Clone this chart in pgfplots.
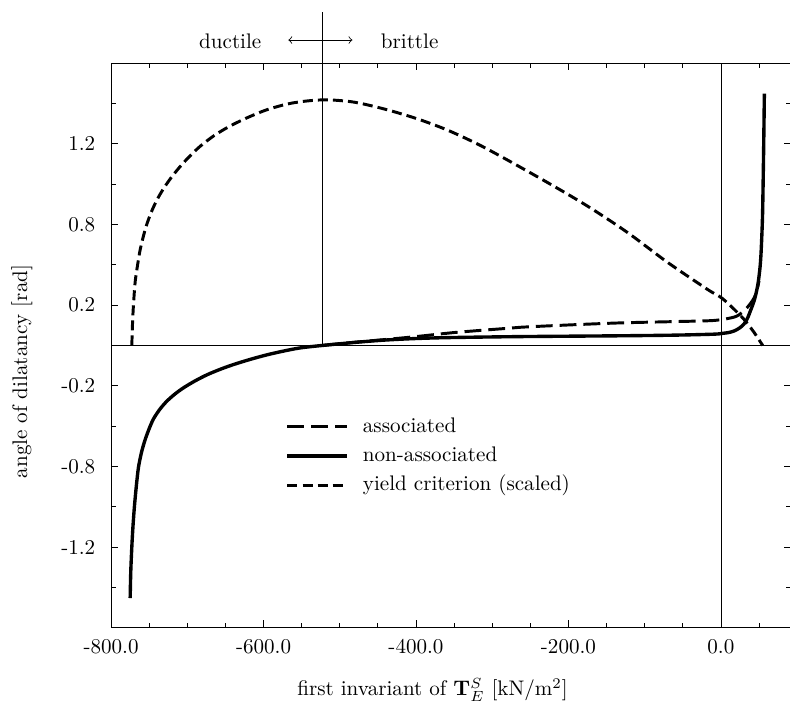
\documentclass[border=0pt]{standalone}
\usepackage{pgfplots}
\pgfplotsset{compat=1.18}
\pgfplotstableread{
x y
-523.0 0.000
-480.0 0.020
-440.0 0.037
-400.0 0.055
-350.0 0.080
-289.0 0.103
-262.0 0.113
-200.0 0.127
-131.0 0.140
-60.0 0.148
-9.0 0.155
17.5 0.176
28.0 0.205
35.0 0.238
41.0 0.275
46.0 0.320
50.0 0.400
}\assoc
\pgfplotstableread{
x y
-775.0 -1.565
-774.2 -1.400
-772.8 -1.245
-771.3 -1.120
-769.4 -0.997
-767.0 -0.875
-764.1 -0.755
-760.0 -0.660
-755.3 -0.583
-750.0 -0.515
-744.4 -0.455
-736.0 -0.395
-726.8 -0.345
-716.0 -0.300
-704.9 -0.262
-690.0 -0.220
-674.3 -0.182
-657.0 -0.148
-639.3 -0.118
-618.0 -0.087
-595.5 -0.058
-573.0 -0.034
-551.7 -0.015
-523.0 0.000
-480.0 0.019
-442.0 0.033
-400.0 0.043
-354.0 0.049
-262.0 0.055
-131.0 0.060
-60.0 0.064
-9.0 0.070
2.2 0.075
10.0 0.080
17.5 0.090
25.0 0.110
30.6 0.135
35.0 0.170
39.4 0.223
43.8 0.280
48.2 0.370
51.0 0.470
52.5 0.560
54.0 0.720
54.8 0.850
56.0 1.200
57.0 1.560
}\nonassoc
\pgfplotstableread{
x y
-772.8 0.000
-772.2 0.100
-771.3 0.200
-770.0 0.300
-768.3 0.400
-765.4 0.495
-762.0 0.590
-757.5 0.680
-752.5 0.760
-746.5 0.835
-739.5 0.905
-731.5 0.970
-722.0 1.035
-711.0 1.100
-698.5 1.165
-683.0 1.235
-665.0 1.300
-645.0 1.357
-622.0 1.410
-596.0 1.460
-568.0 1.497
-543.0 1.515
-516.6 1.522
-481.7 1.508
-442.3 1.466
-400.0 1.407
-360.0 1.337
-320.0 1.250
-285.0 1.162
-228.0 1.011
-175.2 0.864
-122.6 0.700
-70.0 0.515
-17.5 0.347
2.2 0.290
26.3 0.182
36.0 0.128
43.8 0.079
50.0 0.035
54.8 0.000
}\yield
\begin{document}
\begin{tikzpicture}
\begin{axis}[
  scale only axis,
  width=322.5pt, height=267.9pt,
  xmin=-800, xmax=92, ymin=-1.75, ymax=1.75,
  clip=false,
  axis line style={line width=0.5pt},
  xtick={-800,-600,-400,-200,0},
  xticklabels={-800.0,-600.0,-400.0,-200.0,0.0},
  minor xtick={-750,-700,-650,-550,-500,-450,-350,-300,-250,-150,-100,-50,50},
  ytick={-1.25,-0.75,-0.25,0.25,0.75,1.25},
  yticklabels={-1.2,-0.8,-0.2,0.2,0.8,1.2},
  minor ytick={-1.5,-1,-0.5,0,0.5,1,1.5},
  tick align=inside,
  major tick length=3.5pt, minor tick length=2.5pt,
  every tick/.style={line width=0.4pt, black},
  xticklabel style={yshift=-2pt},
  yticklabel style={xshift=-4pt},
  legend cell align=left,
  legend image code/.code={\draw[#1] (0pt,0pt) -- (28pt,0pt);},
  legend style={at={(axis cs:-571.4,-0.4435)}, anchor=north west, draw=none, fill=none,
    inner sep=0pt, row sep=4.8pt, column sep=7pt,
    nodes={inner sep=0pt, text height=7pt, text depth=2pt}},
]
\coordinate (ll) at (rel axis cs:0,0);
\coordinate (ur) at (rel axis cs:1,1);
\draw[line width=0.4pt] (axis cs:-800,0) -- (axis cs:92,0);
\draw[line width=0.4pt] (axis cs:0,-1.75) -- (axis cs:0,1.75);
\draw[line width=0.4pt] (axis cs:-523,0) -- ([yshift=24.2pt]axis cs:-523,1.75);
\addplot[black, line width=1.4pt, smooth, dash pattern=on 8pt off 3.3pt] table {\assoc};
\addlegendentry{associated}
\addplot[black, line width=1.6pt, smooth] table {\nonassoc};
\addlegendentry{non-associated}
\addplot[black, line width=1.4pt, smooth, dash pattern=on 4.75pt off 2.4pt] table {\yield};
\addlegendentry{yield criterion (scaled)}
\node at ([yshift=10.45pt]axis cs:-643.7,1.75) {ductile};
\node[anchor=west, inner sep=0pt] at ([yshift=10.45pt]axis cs:-446.6,1.75) {brittle};
\draw[<->, >=to, line width=0.4pt] ([yshift=10.9pt]axis cs:-567.5,1.75) -- ([yshift=10.9pt]axis cs:-483.4,1.75);
\node[anchor=base] at ([yshift=-32.3pt]axis cs:-378.3,-1.75) {first invariant of $\mathbf{T}_E^S$ [kN/m$^2$]};
\node[rotate=90] at ([xshift=-42.3pt]axis cs:-800,-0.161) {angle of dilatancy [rad]};
\end{axis}
\pgfresetboundingbox
\path[use as bounding box] ([shift={(-52.7pt,-35.15pt)}]ll) rectangle ([shift={(-0.5pt,29.9pt)}]ur);
\end{tikzpicture}
\end{document}
